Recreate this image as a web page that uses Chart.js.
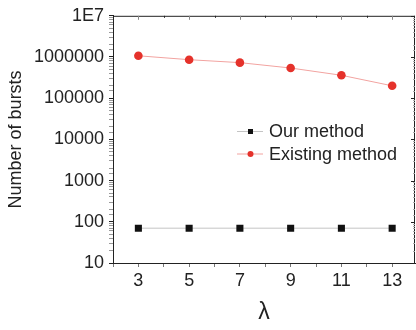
<!DOCTYPE html>
<html>
<head>
<meta charset="utf-8">
<script src="https://cdn.jsdelivr.net/npm/chart.js@4/dist/chart.umd.min.js"></script>
<style>
  html, body { margin: 0; padding: 0; background: #fff; overflow: hidden; }
  #wrap { width: 422px; height: 330px; }
</style>
</head>
<body>
<div id="wrap"><canvas id="bursts-chart" width="422" height="330"></canvas></div>
<script>
// lambda values on the x axis
const lambdas = [3, 5, 7, 9, 11, 13];
// number of bursts per method
const ourMethod = [70, 70, 70, 70, 70, 70];
const existingMethod = [1070000, 860000, 730000, 540000, 360000, 200000];
// y tick labels (powers of ten)
const yTickLabels = ['10', '100', '1000', '10000', '100000', '1000000', '1E7'];

const font = 'Liberation Sans, Arial, sans-serif';
const ink = '#222';

function isPow10(v) {
    const l = Math.log10(v);
    return Math.abs(l - Math.round(l)) < 1e-9;
}

// Legend drawn inside the plot, like the original figure
const insideLegend = {
    id: 'insideLegend',
    afterDraw(chart) {
        const ctx = chart.ctx;
        const rows = [{ y: 131.5 }, { y: 154 }];
        chart.data.datasets.forEach(function(ds, i){
            const y = rows[i].y;
            ctx.save();
            ctx.strokeStyle = ds.borderColor;
            ctx.lineWidth = 1;
            ctx.beginPath();
            ctx.moveTo(237, y);
            ctx.lineTo(263, y);
            ctx.stroke();
            ctx.fillStyle = ds.pointBackgroundColor;
            if (ds.pointStyle === 'rect') {
                ctx.fillRect(248, y - 2.5, 5, 5);
            } else {
                ctx.beginPath();
                ctx.arc(250.5, y, 3, 0, Math.PI * 2);
                ctx.fill();
            }
            ctx.fillStyle = ink;
            ctx.font = '18px ' + font;
            ctx.textBaseline = 'middle';
            ctx.fillText(ds.label, 269, y + 1);
            ctx.restore();
        });
    }
};

// top and right frame with inward ticks
const frame = {
    id: 'frame',
    afterDraw(chart) {
        const ctx = chart.ctx;
        const a = chart.chartArea;
        const xs = chart.scales.x;
        const ys = chart.scales.y;
        ctx.save();
        ctx.strokeStyle = ink;
        ctx.lineWidth = 1;
        ctx.beginPath();
        ctx.moveTo(a.left, a.top + 0.5);
        ctx.lineTo(a.right, a.top + 0.5);
        ctx.moveTo(a.right - 0.5, a.top);
        ctx.lineTo(a.right - 0.5, a.bottom);
        ctx.stroke();
        xs.ticks.forEach(function(t){
            const v = t.value;
            if (v <= xs.min) return;
            const px = Math.round(xs.getPixelForValue(v)) + 0.5;
            ctx.strokeStyle = v % 2 ? '#888' : ink;
            ctx.beginPath();
            ctx.moveTo(px, a.top);
            ctx.lineTo(px, a.top + (v % 2 ? 4 : 2));
            ctx.stroke();
        });
        ys.ticks.forEach(function(t){
            const py = Math.round(ys.getPixelForValue(t.value)) + 0.5;
            const major = isPow10(t.value);
            ctx.strokeStyle = major ? ink : '#aaa';
            ctx.beginPath();
            ctx.moveTo(a.right, py);
            ctx.lineTo(a.right - (major ? 4 : 2), py);
            ctx.stroke();
        });
        ctx.restore();
    }
};

const ctx = document.getElementById('bursts-chart').getContext('2d');

new Chart(ctx, {
    type: 'line',
    data: {
        datasets: [
            {
                label: 'Our method',
                data: lambdas.map((x, i) => ({ x: x, y: ourMethod[i] })),
                borderColor: '#c4c4c4',
                borderWidth: 1,
                pointStyle: 'rect',
                pointRadius: 5,
                pointBackgroundColor: '#111',
                pointBorderWidth: 0
            },
            {
                label: 'Existing method',
                data: lambdas.map((x, i) => ({ x: x, y: existingMethod[i] })),
                borderColor: '#f2a3a0',
                borderWidth: 1,
                pointStyle: 'circle',
                pointRadius: 4.3,
                pointBackgroundColor: '#e5322b',
                pointBorderWidth: 0
            }
        ]
    },
    options: {
        responsive: false,
        animation: false,
        layout: { padding: { left: 0, right: 7, top: 14, bottom: 0 } },
        scales: {
            x: {
                type: 'linear',
                min: 2,
                max: 13.9,
                afterFit: function(scale){ scale.height = 67; },
                afterBuildTicks: function(scale){
                    const t = [];
                    for (let v = Math.ceil(scale.min); v <= Math.floor(scale.max); v++) t.push({ value: v });
                    scale.ticks = t;
                },
                border: { color: ink, width: 1 },
                grid: {
                    drawOnChartArea: false,
                    tickLength: 4,
                    color: '#777'
                },
                ticks: {
                    autoSkip: false,
                    maxRotation: 0,
                    padding: 3,
                    color: ink,
                    font: { family: font, size: 18 },
                    callback: function(v){
                        return lambdas.includes(v) ? String(v) : '';
                    }
                },
                title: {
                    display: true,
                    text: 'λ',
                    color: ink,
                    font: { family: font, size: 23 },
                    padding: { top: 0, bottom: 4 }
                }
            },
            y: {
                type: 'logarithmic',
                min: 10,
                max: 1e7,
                afterFit: function(scale){ scale.width = 113; },
                border: { color: ink, width: 1 },
                grid: {
                    drawOnChartArea: false,
                    tickLength: 4,
                    color: function(c){
                        return isPow10(c.tick.value) ? ink : '#999';
                    }
                },
                ticks: {
                    autoSkip: false,
                    padding: 5,
                    color: ink,
                    font: { family: font, size: 18 },
                    callback: function(v){
                        if (!isPow10(v)) return '';
                        return yTickLabels[Math.round(Math.log10(v)) - 1];
                    }
                },
                title: {
                    display: true,
                    text: 'Number of bursts',
                    color: ink,
                    font: { family: font, size: 18 },
                    padding: { top: 5, bottom: 0 }
                }
            }
        },
        plugins: {
            legend: { display: false },
            tooltip: { enabled: false }
        }
    },
    plugins: [insideLegend, frame]
});
</script>
</body>
</html>
